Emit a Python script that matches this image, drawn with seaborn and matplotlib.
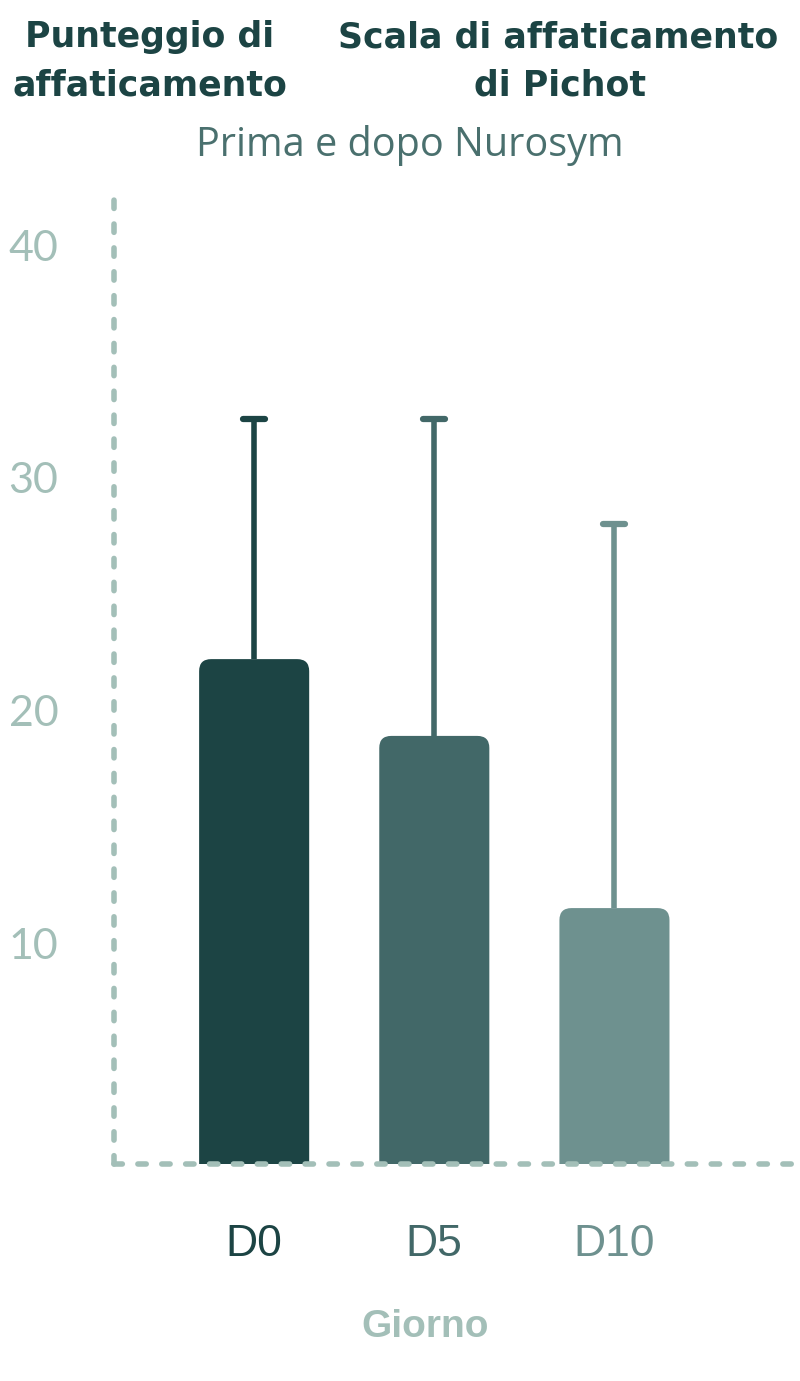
import numpy as np
import pandas as pd
import matplotlib
matplotlib.use('Agg')
import matplotlib.pyplot as plt
import matplotlib.transforms as mtransforms
from matplotlib.patches import FancyBboxPatch
from matplotlib.markers import MarkerStyle
import seaborn as sns

# dati
days = ['D0', 'D5', 'D10']
means = [21.7, 18.4, 11.0]
errs = [10.3, 13.6, 16.5]
colors = ['#1c4444', '#426868', '#6e918f']
yticks = [10, 20, 30, 40]

axis_col = '#a3bfb8'
dark = '#1c4444'

sns.set_style('white')
plt.rcParams['font.family'] = ['Open Sans', 'DejaVu Sans']

fig = plt.figure(figsize=(8, 13.81), dpi=100)
ax = fig.add_axes([0.1425, 0.1571, 0.8575, 0.7053])

df = pd.DataFrame({'day': days, 'mean': means})
sns.barplot(data=df, x='day', y='mean', hue='day', palette=colors, saturation=1,
            legend=False, width=0.611, errorbar=None, ax=ax)

ax.set_xlim(-0.778, 3.03)
ax.set_ylim(0, 41.86)

# angoli arrotondati in alto
rx = 12 / 180
ry = 12 / 23.27
for p in list(ax.patches):
    x0, w, h = p.get_x(), p.get_width(), p.get_height()
    fc = p.get_facecolor()
    p.remove()
    ax.add_patch(FancyBboxPatch((x0, -ry), w, h + ry,
                                boxstyle=f'round,pad=0,rounding_size={rx}',
                                mutation_aspect=ry / rx, fc=fc, ec='none', zorder=1))

# barre di errore (solo verso l'alto)
for i, (m, e, c) in enumerate(zip(means, errs, colors)):
    _, caps, bars = ax.errorbar(i, m, yerr=[[0], [e]], fmt='none', ecolor=c,
                                elinewidth=4, capsize=8, capthick=4.5, zorder=0.9)
    caps[0].set_visible(False)
    for cl in caps:
        cl.set_marker(MarkerStyle('_', capstyle='round'))

# assi tratteggiati
for side in ['top', 'right']:
    ax.spines[side].set_visible(False)
for side in ['left', 'bottom']:
    sp = ax.spines[side]
    sp.set_color(axis_col)
    sp.set_linewidth(4)
    sp.set_linestyle((0, (1.5, 2.8)))
    sp.set_capstyle('round')
    sp.set_zorder(3)

ax.set_yticks(yticks)
ax.set_yticklabels([str(t) for t in yticks], family=['Lato', 'DejaVu Sans'])
ax.set_xticks(range(len(days)))
ax.set_xticklabels(days, family=['Liberation Sans', 'DejaVu Sans'])
ax.tick_params(axis='y', length=0, pad=40, labelsize=31, labelcolor=axis_col)
ax.tick_params(axis='x', length=0, pad=43, labelsize=32)
off = mtransforms.ScaledTranslation(0, -12 / 100, fig.dpi_scale_trans)
for lab in ax.get_yticklabels():
    lab.set_transform(lab.get_transform() + off)
for lab, c in zip(ax.get_xticklabels(), colors):
    lab.set_color(c)
ax.set_xlabel('')
ax.set_ylabel('')

# titoli
title_kw = dict(ha='center', va='center', fontsize=25, fontweight='bold', color=dark,
                family=['DejaVu Sans'])
fig.text(150 / 800, 1 - 37 / 1381, 'Punteggio di', **title_kw)
fig.text(150 / 800, 1 - 85 / 1381, 'affaticamento', **title_kw)
fig.text(558 / 800, 1 - 37 / 1381, 'Scala di affaticamento', **title_kw)
fig.text(560 / 800, 1 - 85 / 1381, 'di Pichot', **title_kw)
fig.text(410 / 800, 1 - 146 / 1381, 'Prima e dopo Nurosym', ha='center', va='center',
         fontsize=28.5, color='#4a706e')
fig.text(425 / 800, 1 - 1327 / 1381, 'Giorno', ha='center', va='center',
         fontsize=28, fontweight='bold', color=axis_col,
         family=['Liberation Sans', 'DejaVu Sans'])

fig.savefig('out.png', dpi=100)
